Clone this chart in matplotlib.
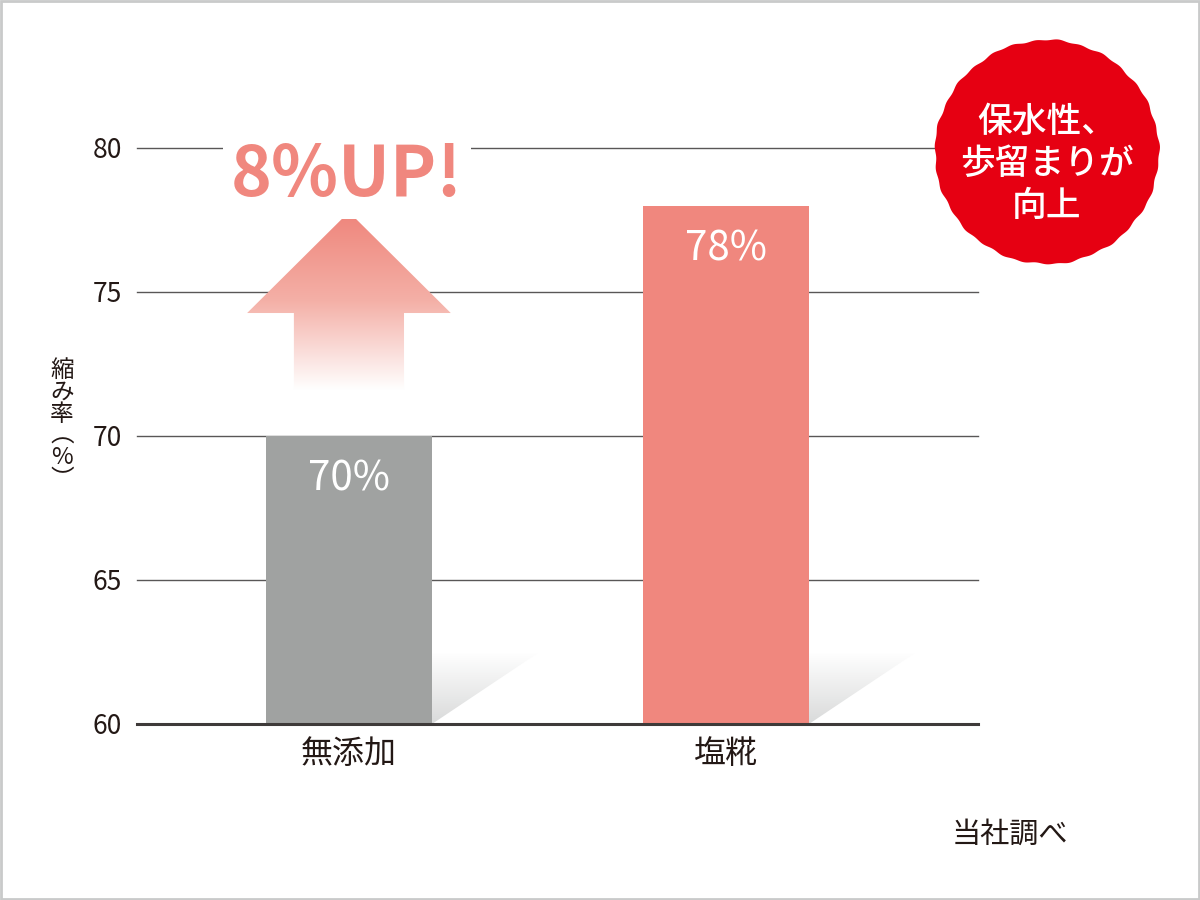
import numpy as np
import matplotlib
matplotlib.use("Agg")
import matplotlib.pyplot as plt
from matplotlib.patches import Polygon, Rectangle
from matplotlib.colors import LinearSegmentedColormap

plt.rcParams['font.family'] = ['Noto Sans CJK JP', 'DejaVu Sans']

# ---- data ----
categories = ['無添加', '塩糀']
values = [70, 78]
bar_labels = ['70%', '78%']
yticks = [60, 65, 70, 75, 80]
ylabel_text = '縮\nみ\n率\n︵\n%\n︶'
callout = '8%UP!'
badge_text = '保水性、\n歩留まりが\n向上'
source = '当社調べ'

bar_colors = ['#a0a2a1', '#f0877e']
text_dark = '#231815'
grid_color = '#595757'

fig = plt.figure(figsize=(12, 9), dpi=100)
ax_bottom = 1 - 724 / 900
ax_top_px = 148 - 0.5 * 28.8
ax = fig.add_axes([137 / 1200, ax_bottom, (978 - 137) / 1200, (724 - ax_top_px) / 900])
ax.set_xlim(-0.562, 1.668)
ax.set_ylim(60, 80.5)
for s in ax.spines.values():
    s.set_visible(False)

x = np.arange(len(categories))
w = 0.44

# gridlines
for yv in yticks[1:]:
    ax.axhline(yv, color=grid_color, lw=1.0, zorder=1, clip_on=False)
ax.axhline(60, color='#3e3a39', lw=2.2, zorder=5, clip_on=False)

# shadows
shadow_cmap = LinearSegmentedColormap.from_list('sh', ['#ffffff', '#d9dada'])
grad = np.linspace(0, 1, 256).reshape(-1, 1)
for i in x:
    xr = i + w / 2
    top = 62.47
    poly = Polygon([(xr, 60), (xr, top), (xr + 0.28, top)], closed=True,
                   facecolor='none', edgecolor='none')
    ax.add_patch(poly)
    im = ax.imshow(grad, cmap=shadow_cmap, extent=(xr, xr + 0.28, 60, top),
                   origin='upper', aspect='auto', zorder=2, interpolation='bilinear')
    im.set_clip_path(poly)

# bars
bars = ax.bar(x, [v - 60 for v in values], bottom=60, width=w, color=bar_colors, zorder=3)
for i, v in enumerate(values):
    ax.text(x[i], v - 1.5, bar_labels[i], ha='center', va='center', color='white',
            fontsize=29, fontweight='normal', zorder=6)

# arrow with gradient
tip = values[1] - 0.22
head_base = values[0] + 4.27
arrow_bottom = values[0] + 1.6
hw = 0.27
sw = 0.146
arrow_pts = [(x[0] - sw, arrow_bottom), (x[0] - sw, head_base), (x[0] - hw, head_base),
             (x[0], tip), (x[0] + hw, head_base), (x[0] + sw, head_base),
             (x[0] + sw, arrow_bottom)]
apoly = Polygon(arrow_pts, closed=True, facecolor='none', edgecolor='none')
ax.add_patch(apoly)
arrow_cmap = LinearSegmentedColormap.from_list('ar', ['#ef857b', '#f4b0a7', '#ffffff'])
aim = ax.imshow(grad, cmap=arrow_cmap, extent=(x[0] - hw, x[0] + hw, arrow_bottom, tip),
                origin='upper', aspect='auto', zorder=4, interpolation='bilinear')
aim.set_clip_path(apoly)

ax.set_xlim(-0.562, 1.668)
ax.set_ylim(60, 80.5)

ax.text(x[0] - 0.005, 79.05, callout, ha='center', va='center', color='#f0877e',
        fontsize=50, fontweight='bold', zorder=6,
        bbox=dict(boxstyle='square,pad=0.12', facecolor='white', edgecolor='none'))

# ticks
ax.set_xticks(x)
ax.set_xticklabels(categories, fontsize=23, color=text_dark)
ax.set_yticks(yticks)
ax.set_yticklabels([str(t) for t in yticks], fontsize=19, color=text_dark)
ax.tick_params(axis='x', length=0, pad=10)
ax.tick_params(axis='y', length=0, pad=11)

# y label stacked vertically
fig.text(62 / 1200, 1 - 425 / 900, ylabel_text, ha='center', va='center',
         fontsize=17, color=text_dark, linespacing=0.93)

# badge
cx, cy, r = 1047, 900 - 152, 112
th = np.linspace(0, 2 * np.pi, 600)
rr = r + 0.6 * np.sin(31 * th) + 0.5 * np.sin(13 * th + 1.0)
bpts = np.column_stack([(cx + rr * np.cos(th)) / 1200, (cy + rr * np.sin(th)) / 900])
fig.patches.append(Polygon(bpts, closed=True, transform=fig.transFigure,
                           facecolor='#e60012', edgecolor='none', zorder=10))
fig.text(cx / 1200, 1 - 164 / 900, badge_text, ha='center', va='center', color='white',
         fontsize=25, fontweight='medium', linespacing=1.22, zorder=11)

# source
fig.text(1010 / 1200, 1 - 835 / 900, source, ha='center', va='center', fontsize=21,
         color=text_dark)

# border
fig.patches.append(Rectangle((0.001, 0.001), 0.998, 0.998, transform=fig.transFigure,
                             facecolor='none', edgecolor='#c9caca', lw=2.0, zorder=20))

fig.savefig('out.png', dpi=100)
